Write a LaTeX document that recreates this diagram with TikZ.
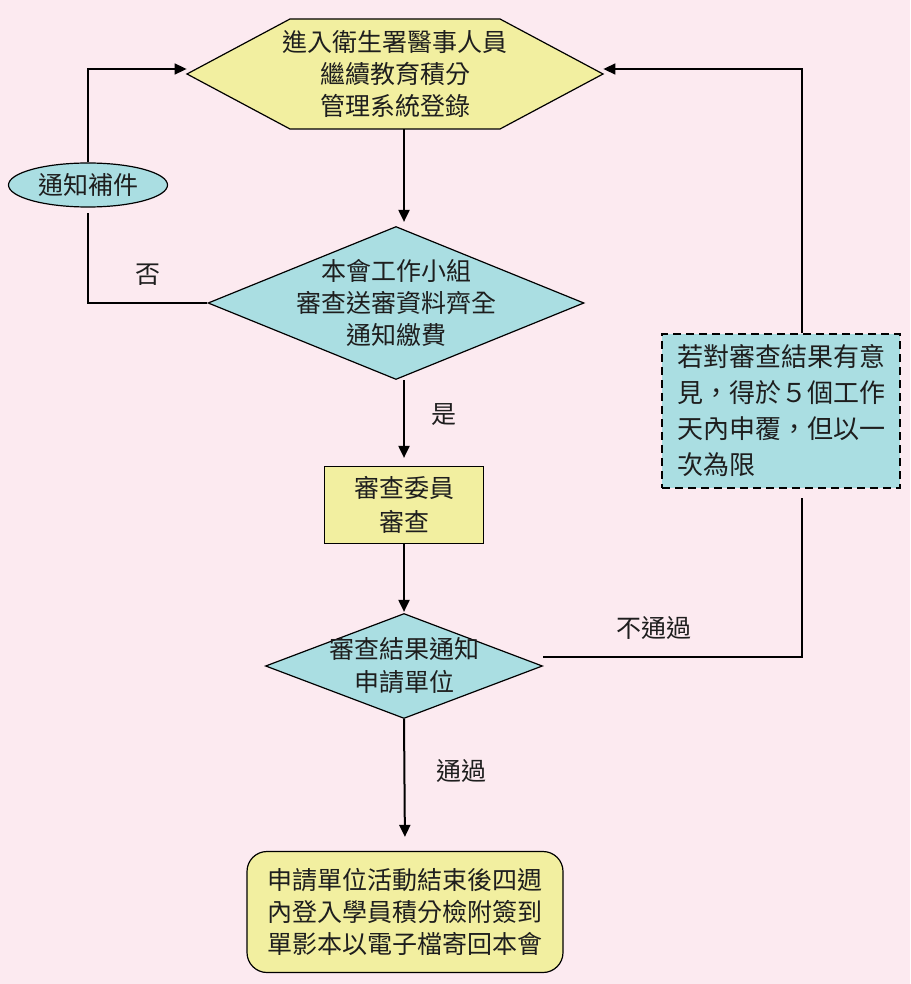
\documentclass[tikz,border=0pt]{standalone}
\usepackage{fontspec}
\setmainfont{Noto Sans CJK TC}
\usetikzlibrary{shapes.geometric,arrows.meta}
\definecolor{bgpink}{RGB}{252,234,240}
\definecolor{boxyellow}{RGB}{242,239,160}
\definecolor{boxcyan}{RGB}{170,222,226}
\definecolor{inkgray}{RGB}{30,30,30}
\tikzset{
	txt/.style={align=center,text=inkgray,font=\fontsize{12.5}{16}\selectfont},
	yellowfill/.style={draw=black,fill=boxyellow,line width=0.6pt},
	cyanfill/.style={draw=black,fill=boxcyan,line width=0.6pt},
	flow/.style={-{Triangle[length=6pt,width=5.5pt]},line width=1pt,shorten >=2pt},
	loopline/.style={line width=0.8pt}
}

\begin{document}
\begin{tikzpicture}[x=0.5pt,y=-0.5pt]
	% Background
	\fill[bgpink] (0,0) rectangle (910,984);
	
	% Shapes
	\filldraw[yellowfill] (187,74) -- (290,19) -- (500,19) -- (603,74) -- (500,129) -- (290,129) -- cycle;
	\node[txt,minimum width=208pt,minimum height=55pt,inner sep=0pt] (hex) at (395,74) {進入衛生署醫事人員\\繼續教育積分\\管理系統登錄};
	\node[ellipse,cyanfill,txt,minimum width=79.5pt,minimum height=22pt,inner sep=0pt] (notify) at (88,185) {通知補件};
	\node[diamond,cyanfill,minimum width=188pt,minimum height=76.5pt,inner sep=0pt,
		label={[txt]center:{本會工作小組\\審查送審資料齊全\\通知繳費}}] (check) at (396,303) {};
	\node[rectangle,yellowfill,txt,minimum width=79.5pt,minimum height=38.5pt,
		font=\fontsize{12.5}{17}\selectfont] (review) at (404,505) {審查委員\\審查};
	\node[diamond,cyanfill,minimum width=138.5pt,minimum height=52.5pt,inner sep=0pt,
		label={[txt,font=\fontsize{12.5}{16.5}\selectfont]center:{審查結果通知\\申請單位}}] (result) at (404,666) {};
	\node[rectangle,cyanfill,dash pattern=on 4pt off 2.5pt,txt,align=left,minimum width=119pt,minimum height=77pt,
		font=\fontsize{13}{18}\selectfont] (appeal) at (781,411) {若對審查結果有意\\見，得於５個工作\\天內申覆，但以一\\次為限};
	\node[rectangle,rounded corners=10pt,yellowfill,txt,minimum width=158pt,minimum height=60.5pt] (final) at (405,912)
		{申請單位活動結束後四週\\內登入學員積分檢附簽到\\單影本以電子檔寄回本會};
	
	\path ([yshift=2.5pt]hex.west) coordinate (hexW) ([yshift=2.5pt]hex.east) coordinate (hexE)
		([yshift=4.5pt]result.east) coordinate (noexit)
		([xshift=10.5pt]appeal.south) coordinate (appealS) ([xshift=10.5pt]appeal.north) coordinate (appealN);
	
	% Main flow
	\draw[flow] (hex.south -| review.north) -- (check.north -| review.north);
	\draw[flow,shorten >=4pt] (check.south -| review.north) -- (review.north) node[txt,midway,right=10pt,yshift=4pt]{是};
	\draw[flow,shorten >=0.5pt] (review.south) -- (result.north);
	\draw[flow,shorten >=7pt] (result.south) -- (final.north) node[txt,midway,right=12pt,yshift=7pt]{通過};
	
	% Loops back
	\draw[loopline] (check.west) -- node[txt,above=5pt]{否} (check.west -| notify.south) -- ([yshift=-2.5pt]notify.south);
	\draw[flow,line width=0.8pt,shorten >=0pt] (notify.north) |- (hexW);
	\draw[loopline] (noexit) -- node[txt,pos=0.43,above=5pt]{不通過} (noexit -| appealS) -- ([yshift=-4.5pt]appealS);
	\draw[flow,line width=0.8pt,shorten >=0pt] (appealN) |- (hexE);
\end{tikzpicture}
\end{document}
